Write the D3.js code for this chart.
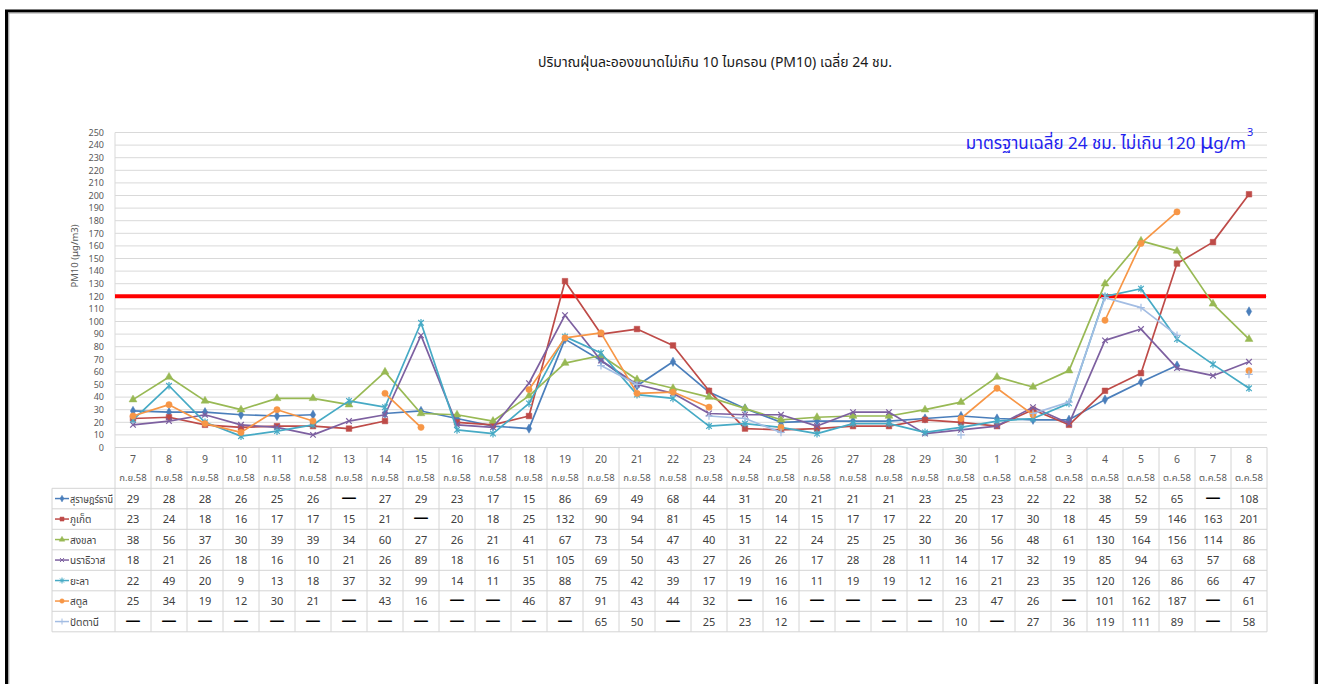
<!DOCTYPE html>
<html>
<head>
<meta charset="utf-8">
<script src="https://cdn.jsdelivr.net/npm/d3@7"></script>
<style>
body { margin: 0; background: #fff; }
text { font-family: "Noto Sans Thai", "Leelawadee UI", Tahoma, "DejaVu Sans", sans-serif; }
</style>
</head>
<body>
<div id="chart"></div>
<script>
// PM10 daily averages, southern Thailand stations

const dayLabels = ['7','8','9','10','11','12','13','14','15','16','17','18','19','20','21','22','23','24','25','26','27','28','29','30',
                   '1','2','3','4','5','6','7','8'];
const monthLabels = ['ก.ย.58','ก.ย.58','ก.ย.58','ก.ย.58','ก.ย.58','ก.ย.58','ก.ย.58','ก.ย.58','ก.ย.58','ก.ย.58','ก.ย.58','ก.ย.58',
                     'ก.ย.58','ก.ย.58','ก.ย.58','ก.ย.58','ก.ย.58','ก.ย.58','ก.ย.58','ก.ย.58','ก.ย.58','ก.ย.58','ก.ย.58','ก.ย.58',
                     'ต.ค.58','ต.ค.58','ต.ค.58','ต.ค.58','ต.ค.58','ต.ค.58','ต.ค.58','ต.ค.58'];

const suratthani = [29,28,28,26,25,26,null,27,29,23,17,15,86,69,49,68,44,31,20,21,21,21,23,25,23,22,22,38,52,65,null,108];
const phuket     = [23,24,18,16,17,17,15,21,null,20,18,25,132,90,94,81,45,15,14,15,17,17,22,20,17,30,18,45,59,146,163,201];
const songkhla   = [38,56,37,30,39,39,34,60,27,26,21,41,67,73,54,47,40,31,22,24,25,25,30,36,56,48,61,130,164,156,114,86];
const narathiwat = [18,21,26,18,16,10,21,26,89,18,16,51,105,69,50,43,27,26,26,17,28,28,11,14,17,32,19,85,94,63,57,68];
const yala       = [22,49,20,9,13,18,37,32,99,14,11,35,88,75,42,39,17,19,16,11,19,19,12,16,21,23,35,120,126,86,66,47];
const satun      = [25,34,19,12,30,21,null,43,16,null,null,46,87,91,43,44,32,null,16,null,null,null,null,23,47,26,null,101,162,187,null,61];
const pattani    = [null,null,null,null,null,null,null,null,null,null,null,null,null,65,50,null,25,23,12,null,null,null,null,10,null,27,36,119,111,89,null,58];

const seriesNames = ['สุราษฎร์ธานี','ภูเก็ต','สงขลา','นราธิวาส','ยะลา','สตูล','ปัตตานี'];
const seriesData = [suratthani, phuket, songkhla, narathiwat, yala, satun, pattani];
const seriesColors = ['#4a7ebb','#be4b48','#98b954','#7d60a0','#46aac5','#f79646','#a3bde3'];
const seriesMarkers = ['diamond','square','triangle','x','star','circle','plus'];

const standardValue = 120;
const yTicks = d3.range(0, 251, 10);

const width = 1327, height = 684;
const plot = { left: 115, right: 1267, top: 132.5, bottom: 447.5 };
const rowH = 20.5;
const headerBottom = 488.3;
const legendLeft = 52;

const svg = d3.select('#chart').append('svg')
    .attr('width', width)
    .attr('height', height)
    .style('display', 'block');

svg.append('rect').attr('width', width).attr('height', height).attr('fill', '#fff');

// frame
svg.append('path')
    .attr('d', `M6.5,${height + 5} V11 H1316.5 V${height + 5}`)
    .attr('fill', 'none').attr('stroke', '#000').attr('stroke-width', 3);
svg.append('path')
    .attr('d', `M8.7,${height + 5} V13 H1314.3 V${height + 5}`)
    .attr('fill', 'none').attr('stroke', '#a0a0a0').attr('stroke-width', 1.2);

const x = d3.scaleBand().domain(d3.range(dayLabels.length)).range([plot.left, plot.right]);
const bw = x.bandwidth();
const cx = i => x(i) + bw / 2;
const y = d3.scaleLinear().domain([0, 250]).range([plot.bottom, plot.top]);

// title
svg.append('text')
    .attr('x', 715).attr('y', 67)
    .attr('text-anchor', 'middle')
    .attr('font-size', 14).attr('fill', '#1a1a1a')
    .text('ปริมาณฝุ่นละอองขนาดไม่เกิน 10 ไมครอน (PM10) เฉลี่ย 24 ชม.');

// gridlines
svg.append('g').selectAll('line')
    .data(yTicks.filter(t => t > 0))
    .enter().append('line')
    .attr('x1', plot.left).attr('x2', plot.right)
    .attr('y1', d => y(d)).attr('y2', d => y(d))
    .attr('stroke', '#d9d9d9').attr('stroke-width', 1);

svg.append('line')
    .attr('x1', plot.left).attr('x2', plot.left)
    .attr('y1', plot.top).attr('y2', plot.bottom)
    .attr('stroke', '#d9d9d9');

// y axis labels
const yAxis = d3.axisLeft(y).tickValues(yTicks).tickSize(0).tickPadding(0);
const yg = svg.append('g').attr('transform', `translate(${plot.left - 11},0)`).call(yAxis);
yg.select('.domain').remove();
yg.selectAll('text').attr('font-size', 9).attr('fill', '#595959')
    .style('font-family', '"Noto Sans Thai", Tahoma, "DejaVu Sans", sans-serif');

svg.append('text')
    .attr('transform', 'translate(78,256) rotate(-90)')
    .attr('text-anchor', 'middle')
    .attr('font-size', 9.5).attr('fill', '#595959')
    .text('PM10 (µg/m3)');

// standard line
svg.append('line')
    .attr('x1', plot.left).attr('x2', plot.right - 1)
    .attr('y1', y(standardValue)).attr('y2', y(standardValue))
    .attr('stroke', '#ff0000').attr('stroke-width', 4);

// annotation
const note = svg.append('text')
    .attr('x', 1246).attr('y', 149)
    .attr('text-anchor', 'end')
    .attr('font-size', 17).attr('fill', '#2222ee');
note.append('tspan').text('มาตรฐานเฉลี่ย 24 ชม. ไม่เกิน 120 ');
note.append('tspan').attr('font-size', 21).text('µ');
note.append('tspan').text('g/m');
svg.append('text')
    .attr('x', 1247).attr('y', 136)
    .attr('font-size', 11).attr('fill', '#2222ee')
    .text('3');

// markers
function markerPath(type, s) {
    const h = s / 2;
    const a = s * s;
    switch (type) {
        case 'diamond': return d3.symbol(d3.symbolDiamond, a * 0.8)();
        case 'square': return d3.symbol(d3.symbolSquare, a)();
        case 'triangle': return d3.symbol(d3.symbolTriangle, a * 0.85)();
        case 'circle': return d3.symbol(d3.symbolCircle, a)();
        case 'x': return `M${-h},${-h}L${h},${h}M${-h},${h}L${h},${-h}`;
        case 'star': return `M${-h},${-h}L${h},${h}M${-h},${h}L${h},${-h}M0,${-h - 1}L0,${h + 1}`;
        case 'plus': return `M${-h - 1},0L${h + 1},0M0,${-h - 1}L0,${h + 1}`;
    }
}
const strokeMarkers = ['x', 'star', 'plus'];

const line = d3.line()
    .defined(d => d != null)
    .x((d, i) => cx(i))
    .y(d => y(d));

const seriesG = svg.append('g');
seriesData.forEach((vals, si) => {
    const col = seriesColors[si];
    const type = seriesMarkers[si];
    seriesG.append('path')
        .datum(vals)
        .attr('d', line)
        .attr('fill', 'none')
        .attr('stroke', col)
        .attr('stroke-width', 1.7)
        .attr('stroke-linejoin', 'round');
    const pts = vals.map((v, i) => ({ v, i })).filter(p => p.v != null);
    seriesG.append('g').selectAll('path')
        .data(pts)
        .enter().append('path')
        .attr('transform', p => `translate(${cx(p.i)},${y(p.v)})`)
        .attr('d', markerPath(type, 5.6))
        .attr('fill', strokeMarkers.includes(type) ? 'none' : col)
        .attr('stroke', col)
        .attr('stroke-width', strokeMarkers.includes(type) ? 1.2 : 0.5);
});

// data table
const tableG = svg.append('g');
const tableBottom = headerBottom + rowH * seriesData.length;
const gridCol = '#d4d4d4';

// column separators
tableG.selectAll('line.col')
    .data(d3.range(dayLabels.length + 1))
    .enter().append('line')
    .attr('x1', i => plot.left + i * bw).attr('x2', i => plot.left + i * bw)
    .attr('y1', plot.bottom).attr('y2', tableBottom)
    .attr('stroke', gridCol);

// row separators
tableG.append('line')
    .attr('x1', plot.left).attr('x2', plot.right)
    .attr('y1', plot.bottom).attr('y2', plot.bottom)
    .attr('stroke', gridCol);
tableG.selectAll('line.row')
    .data(d3.range(seriesData.length + 1))
    .enter().append('line')
    .attr('x1', legendLeft).attr('x2', plot.right)
    .attr('y1', r => headerBottom + r * rowH).attr('y2', r => headerBottom + r * rowH)
    .attr('stroke', gridCol);
tableG.append('line')
    .attr('x1', legendLeft).attr('x2', legendLeft)
    .attr('y1', headerBottom).attr('y2', tableBottom)
    .attr('stroke', gridCol);

// header labels
tableG.selectAll('text.day')
    .data(dayLabels)
    .enter().append('text')
    .attr('x', (d, i) => cx(i)).attr('y', 463)
    .attr('text-anchor', 'middle')
    .attr('font-size', 10.5).attr('fill', '#595959')
    .text(d => d);
tableG.selectAll('text.month')
    .data(monthLabels)
    .enter().append('text')
    .attr('x', (d, i) => cx(i)).attr('y', 481)
    .attr('text-anchor', 'middle')
    .attr('font-size', 9.5).attr('fill', '#595959')
    .text(d => d);

// legend keys and values
seriesData.forEach((vals, si) => {
    const rowY = headerBottom + si * rowH + rowH / 2;
    const col = seriesColors[si];
    const type = seriesMarkers[si];
    tableG.append('line')
        .attr('x1', 55).attr('x2', 69)
        .attr('y1', rowY).attr('y2', rowY)
        .attr('stroke', col).attr('stroke-width', 1.5);
    tableG.append('path')
        .attr('transform', `translate(62,${rowY})`)
        .attr('d', markerPath(type, 4))
        .attr('fill', strokeMarkers.includes(type) ? 'none' : col)
        .attr('stroke', col)
        .attr('stroke-width', strokeMarkers.includes(type) ? 1 : 0.5);
    tableG.append('text')
        .attr('x', 70).attr('y', rowY + 4)
        .attr('font-size', 10).attr('fill', '#404040')
        .attr('textLength', seriesNames[si].length > 8 ? 43 : null)
        .attr('lengthAdjust', 'spacingAndGlyphs')
        .text(seriesNames[si]);

    tableG.selectAll(null)
        .data(vals)
        .enter().append('text')
        .attr('x', (d, i) => cx(i))
        .attr('y', d => d == null ? rowY + 3 : rowY + 4)
        .attr('text-anchor', 'middle')
        .attr('font-size', d => d == null ? 15 : 11)
        .attr('font-weight', d => d == null ? 'bold' : 'normal')
        .attr('fill', d => d == null ? '#000' : '#404040')
        .text(d => d == null ? '—' : d);
});
</script>
</body>
</html>
